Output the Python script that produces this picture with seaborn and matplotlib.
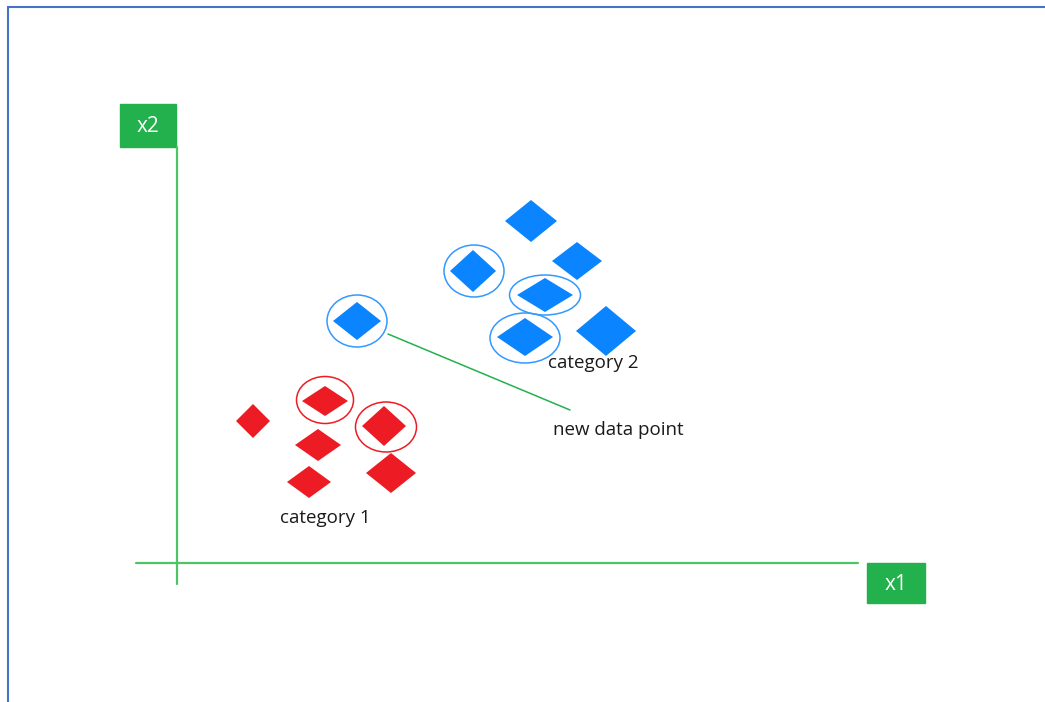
import pandas as pd
import matplotlib.pyplot as plt
import seaborn as sns
from matplotlib.path import Path
from matplotlib.patches import Ellipse, Rectangle

sns.set_theme(style='white')
plt.rcParams['font.family'] = ['Open Sans', 'DejaVu Sans']

# -----------------------------
# Data (positions, y grows downwards)
# -----------------------------
cat1_x = [253, 325, 384, 318, 309, 391]
cat1_y = [421, 401, 426, 445, 482, 473]
cat1_w = [17, 23, 22, 23, 22, 25]
cat1_h = [17, 15, 20, 16, 16, 20]

cat2_x = [531, 577, 473, 545, 525, 606, 357]
cat2_y = [221, 261, 271, 295, 337, 331, 321]
cat2_w = [26, 25, 23, 28, 28, 30, 24]
cat2_h = [21, 19, 21, 17, 19, 25, 19]

# neighbour rings: centre x, centre y, width, height
ring1_x = [325, 386]
ring1_y = [400, 427]
ring1_w = [57, 61]
ring1_h = [47, 50]

ring2_x = [474, 545, 525, 357]
ring2_y = [271, 295, 338, 321]
ring2_w = [60, 71, 70, 60]
ring2_h = [52, 40, 50, 52]

labels = ['category 1', 'category 2', 'new data point']

RED = '#ed1c24'
BLUE = '#0a84ff'
GREEN = '#22b14c'
LINE_GREEN = '#4fc467'

# -----------------------------
# Figure
# -----------------------------
fig = plt.figure(figsize=(10.45, 7.02), dpi=100)
ax = fig.add_axes([0, 0, 1, 1])
ax.set_xlim(0, 1045)
ax.set_ylim(702, 0)
ax.axis('off')


def diamond(w, h):
    return Path([(0, h), (w, 0), (0, -h), (-w, 0), (0, h)],
                [Path.MOVETO, Path.LINETO, Path.LINETO, Path.LINETO, Path.CLOSEPOLY])


def draw_points(xs, ys, ws, hs, color):
    df = pd.DataFrame({'x1': xs, 'x2': ys, 'id': [str(i) for i in range(len(xs))]})
    markers = {str(i): diamond(w, h) for i, (w, h) in enumerate(zip(ws, hs))}
    sizes = {str(i): (2 * max(w, h) * 0.72) ** 2 for i, (w, h) in enumerate(zip(ws, hs))}
    sns.scatterplot(data=df, x='x1', y='x2', style='id', markers=markers,
                    size='id', sizes=sizes, color=color, linewidth=0,
                    legend=False, ax=ax, zorder=3)


draw_points(cat1_x, cat1_y, cat1_w, cat1_h, RED)
draw_points(cat2_x, cat2_y, cat2_w, cat2_h, BLUE)

for x, y, w, h in zip(ring1_x, ring1_y, ring1_w, ring1_h):
    ax.add_patch(Ellipse((x, y), w, h, fill=False, ec=RED, lw=1.1, zorder=4))
for x, y, w, h in zip(ring2_x, ring2_y, ring2_w, ring2_h):
    ax.add_patch(Ellipse((x, y), w, h, fill=False, ec='#3399ff', lw=1.1, zorder=4))

# pointer from the new data point to its label
ax.plot([388, 570], [334, 410], color=GREEN, lw=1.1)

# axes drawn as in the sketch
ax.plot([177, 177], [147, 584], color=LINE_GREEN, lw=1.6)
ax.plot([136, 858], [563, 563], color=LINE_GREEN, lw=1.6)
ax.add_patch(Rectangle((120, 104), 56, 43, color=GREEN))
ax.add_patch(Rectangle((867, 563), 58, 40, color=GREEN))
ax.text(148, 127, 'x2', color='white', fontsize=15, ha='center', va='center')
ax.text(896, 584, 'x1', color='white', fontsize=15, ha='center', va='center')

ax.text(325, 518, labels[0], fontsize=13.5, color='#1a1a1a', ha='center', va='center')
ax.text(593, 363, labels[1], fontsize=13.5, color='#1a1a1a', ha='center', va='center')
ax.text(618, 430, labels[2], fontsize=13.5, color='#1a1a1a', ha='center', va='center')

# frame of the screenshot
ax.plot([8, 1045], [7, 7], color='#4472c4', lw=1.5)
ax.plot([8, 8], [7, 702], color='#4472c4', lw=1.5)

fig.savefig('out.png', dpi=100)
